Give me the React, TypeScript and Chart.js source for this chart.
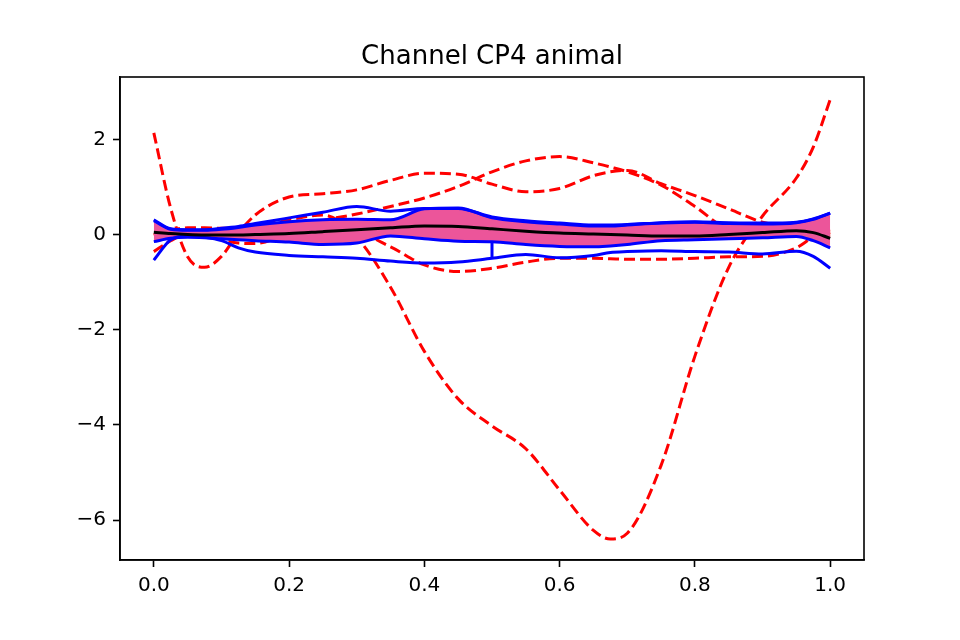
import { useEffect, useRef } from 'react';
import { Chart, registerables, type ChartConfiguration } from 'chart.js';

Chart.register(...registerables);

// shared sample positions along the x axis
const X = [0, 0.025, 0.05, 0.075, 0.1, 0.125, 0.15, 0.2, 0.25, 0.3, 0.35, 0.4, 0.45, 0.5, 0.55, 0.6, 0.65, 0.675, 0.7, 0.75, 0.8, 0.85, 0.9, 0.95, 0.975, 1.0];

// animal traces (red dashed)
const RED_A = [2.15, 0.56, -0.46, -0.68, -0.45, 0.04, 0.42, 0.8, 0.87, 0.95, 1.15, 1.3, 1.28, 1.07, 0.91, 0.98, 1.25, 1.33, 1.36, 1.08, 0.83, 0.55, 0.27, 0.15, 0.1, 0.08];
const RED_B = [-0.35, -0.12, 0.02, -0.02, -0.1, -0.17, -0.18, 0.05, 0.3, 0.44, 0.6, 0.78, 1.02, 1.33, 1.56, 1.65, 1.52, 1.43, 1.33, 1.05, 0.6, 0.12, 0.05, 0.02, 0.0, -0.02];
const RED_C = [0.0, 0.1, 0.15, 0.15, 0.14, 0.15, 0.2, 0.32, 0.42, -0.05, -1.1, -2.45, -3.45, -4.02, -4.5, -5.37, -6.22, -6.4, -6.28, -4.85, -2.55, -0.68, 0.4, 1.2, 1.85, 2.85];
const RED_D = [0.0, 0.05, 0.08, 0.1, 0.1, 0.05, 0.0, 0.0, 0.03, 0.03, -0.25, -0.63, -0.77, -0.7, -0.57, -0.49, -0.49, -0.5, -0.51, -0.51, -0.49, -0.46, -0.45, -0.27, -0.05, 0.05];

// reference traces (blue)
const BLUE_P = [0.32, 0.13, 0.11, 0.11, 0.14, 0.18, 0.24, 0.36, 0.48, 0.6, 0.5, 0.56, 0.56, 0.38, 0.3, 0.25, 0.21, 0.21, 0.22, 0.26, 0.28, 0.26, 0.25, 0.27, 0.34, 0.46];
const BAND_TOP = [0.3, 0.12, 0.1, 0.1, 0.12, 0.16, 0.21, 0.28, 0.32, 0.33, 0.32, 0.55, 0.57, 0.36, 0.28, 0.23, 0.19, 0.19, 0.21, 0.25, 0.27, 0.24, 0.23, 0.26, 0.33, 0.46];
const BAND_BOTTOM = [-0.14, -0.07, -0.05, -0.06, -0.08, -0.1, -0.12, -0.15, -0.2, -0.17, -0.02, -0.08, -0.13, -0.14, -0.2, -0.24, -0.25, -0.23, -0.2, -0.12, -0.1, -0.08, -0.06, -0.03, -0.12, -0.27];
const BLUE_LOW = [-0.53, -0.1, -0.02, -0.05, -0.12, -0.27, -0.36, -0.43, -0.46, -0.49, -0.55, -0.59, -0.57, -0.49, -0.41, -0.48, -0.43, -0.37, -0.35, -0.33, -0.35, -0.36, -0.4, -0.34, -0.45, -0.7];
const JUMP_X = [0.5, 0.5];
const JUMP_Y = [-0.49, -0.14];

// mean trace (black)
const MEAN = [0.06, 0.03, 0.01, 0.0, 0.0, 0.0, 0.01, 0.03, 0.07, 0.11, 0.15, 0.19, 0.18, 0.13, 0.08, 0.04, 0.02, 0.01, 0.0, -0.02, -0.02, 0.01, 0.05, 0.09, 0.05, -0.07];

const X_TICKS = [0, 0.2, 0.4, 0.6, 0.8, 1.0];
const Y_TICKS = [-6, -4, -2, 0, 2];

const TITLE = 'Channel CP4 animal';
const FONT = '"DejaVu Sans", sans-serif';

const pts = (ys: number[], xs: number[] = X) => xs.map((x, i) => ({ x, y: ys[i] }));

export default function App() {
  const canvasRef = useRef<HTMLCanvasElement>(null);
  const chartRef = useRef<Chart | null>(null);

  useEffect(() => {
    const canvas = canvasRef.current;
    if (!canvas) return;
    chartRef.current?.destroy();

    const blue = (data: number[], xs?: number[]) => ({
      data: pts(data, xs),
      borderColor: '#0000ff',
      borderWidth: 3,
      pointRadius: 0,
      fill: false,
      cubicInterpolationMode: 'monotone' as const,
      order: 1,
    });
    const red = (data: number[]) => ({
      data: pts(data),
      borderColor: '#ff0000',
      borderWidth: 3,
      borderDash: [11, 5],
      borderCapStyle: 'butt' as const,
      pointRadius: 0,
      fill: false,
      cubicInterpolationMode: 'monotone' as const,
      order: 3,
    });

    const framePlugin = {
      id: 'frame',
      afterDraw(chart: Chart) {
        const { ctx, chartArea } = chart;
        ctx.save();
        ctx.strokeStyle = '#000';
        ctx.lineWidth = 1.6;
        ctx.strokeRect(chartArea.left, chartArea.top, chartArea.right - chartArea.left, chartArea.bottom - chartArea.top);
        ctx.fillStyle = '#000';
        ctx.font = '26px ' + FONT;
        ctx.textAlign = 'center';
        ctx.textBaseline = 'alphabetic';
        ctx.fillText(TITLE, (chartArea.left + chartArea.right) / 2, chartArea.top - 13);
        ctx.restore();
      },
    };

    const tickFont = { family: FONT, size: 20 };

    const config: ChartConfiguration<'line'> = {
      type: 'line',
      data: {
        datasets: [
          { ...blue(MEAN), borderColor: '#000000', order: 0 },
          blue(BLUE_P),
          blue(BAND_TOP),
          blue(BAND_BOTTOM),
          blue(BLUE_LOW),
          { ...blue(JUMP_Y, JUMP_X), cubicInterpolationMode: 'default' as const, tension: 0 },
          {
            data: pts(BAND_TOP),
            borderWidth: 0,
            pointRadius: 0,
            backgroundColor: '#ec559a',
            fill: { target: 7 },
            cubicInterpolationMode: 'monotone',
            order: 2,
          },
          {
            data: pts(BAND_BOTTOM),
            borderWidth: 0,
            pointRadius: 0,
            fill: false,
            cubicInterpolationMode: 'monotone',
            order: 2,
          },
          red(RED_A),
          red(RED_B),
          red(RED_C),
          red(RED_D),
        ],
      },
      options: {
        responsive: false,
        animation: false,
        events: [],
        layout: { padding: { left: 0, right: 96, top: 77, bottom: 0 } },
        plugins: {
          legend: { display: false },
          tooltip: { enabled: false },
          title: { display: false },
        },
        scales: {
          x: {
            type: 'linear',
            min: -0.05,
            max: 1.05,
            afterFit: (scale) => { scale.height = 80; },
            afterBuildTicks: (scale) => { scale.ticks = X_TICKS.map((value) => ({ value })); },
            grid: { drawOnChartArea: false, drawTicks: true, tickLength: 7, tickWidth: 1.6, tickColor: '#000' },
            border: { display: true, color: '#000', width: 1.6 },
            ticks: {
              color: '#000',
              font: tickFont,
              padding: 7,
              maxRotation: 0,
              callback: (v) => Number(v).toFixed(1),
            },
          },
          y: {
            type: 'linear',
            min: -6.842,
            max: 3.326,
            afterFit: (scale) => { scale.width = 120; },
            afterBuildTicks: (scale) => { scale.ticks = Y_TICKS.map((value) => ({ value })); },
            grid: { drawOnChartArea: false, drawTicks: true, tickLength: 7, tickWidth: 1.6, tickColor: '#000' },
            border: { display: true, color: '#000', width: 1.6 },
            ticks: {
              color: '#000',
              font: tickFont,
              padding: 7,
              callback: (v) => String(v).replace('-', '\u2212'),
            },
          },
        },
      },
      plugins: [framePlugin],
    };

    chartRef.current = new Chart(canvas, config);
    return () => {
      chartRef.current?.destroy();
      chartRef.current = null;
    };
  }, []);

  return (
    <div style={{ position: 'absolute', left: 0, top: 0, width: 960, height: 640, background: '#fff' }}>
      <canvas ref={canvasRef} width={960} height={640} style={{ display: 'block' }} />
    </div>
  );
}
